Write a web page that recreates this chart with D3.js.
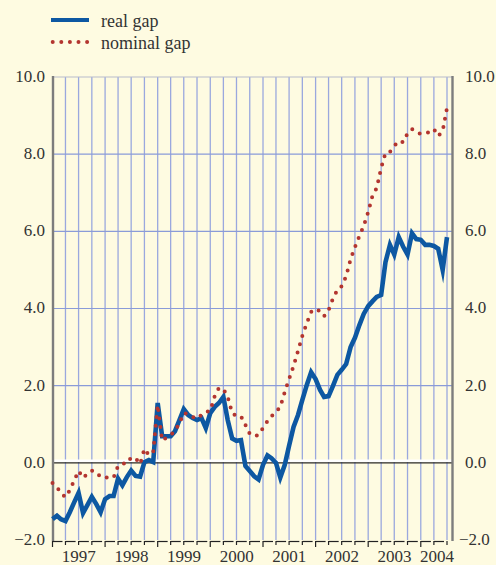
<!DOCTYPE html>
<html>
<head>
<meta charset="utf-8">
<script src="https://cdn.jsdelivr.net/npm/d3@7"></script>
<style>
  body { margin: 0; background: #fefbe1; }
  svg { display: block; }
  svg text { font-family: "Liberation Serif", Tinos, "Times New Roman", "DejaVu Serif", serif; }
</style>
</head>
<body>
<svg id="chart"></svg>
<script>
// monthly, Jan 1997 .. Jul 2004
const startYear = 1997;
const realGap = [
  -1.46, -1.37, -1.46, -1.51, -1.28, -1.02, -0.78, -1.30, -1.09, -0.88, -1.07, -1.28,
  -0.94, -0.86, -0.86, -0.41, -0.58, -0.37, -0.20, -0.34, -0.36, 0.02, 0.07, 0.02,
  1.55, 0.69, 0.69, 0.69, 0.82, 1.11, 1.39, 1.24, 1.16, 1.11, 1.16, 0.90,
  1.29, 1.45, 1.55, 1.71, 1.11, 0.63, 0.57, 0.59, -0.08, -0.21, -0.35, -0.43,
  -0.05, 0.19, 0.12, 0.00, -0.38, -0.05, 0.44, 0.93, 1.24, 1.63, 2.02, 2.35,
  2.17, 1.89, 1.71, 1.73, 1.99, 2.28, 2.41, 2.56, 3.00, 3.24, 3.57, 3.86,
  4.06, 4.19, 4.30, 4.35, 5.20, 5.65, 5.40, 5.85, 5.60, 5.40, 5.95, 5.80,
  5.78, 5.65, 5.65, 5.62, 5.55, 5.00, 5.85
];
const nominalGap = [
  -0.52, -0.63, -0.78, -0.89, -0.71, -0.45, -0.21, -0.39, -0.28, -0.20, -0.24, -0.37,
  -0.39, -0.37, -0.38, -0.08, -0.02, -0.02, 0.14, 0.12, -0.03, 0.36, 0.20, 0.28,
  1.50, 0.58, 0.65, 0.72, 0.82, 1.03, 1.29, 1.26, 1.19, 1.14, 1.24, 1.32,
  1.35, 1.73, 1.94, 1.91, 1.71, 1.29, 1.21, 1.21, 0.98, 0.75, 0.69, 0.72,
  0.90, 1.08, 1.21, 1.32, 1.45, 1.84, 2.17, 2.51, 2.90, 3.29, 3.62, 3.91,
  3.99, 3.93, 3.80, 3.96, 4.25, 4.48, 4.58, 4.84, 5.28, 5.59, 5.88, 6.14,
  6.50, 6.94, 7.12, 7.64, 8.03, 8.06, 8.21, 8.34, 8.31, 8.54, 8.65, 8.57,
  8.52, 8.55, 8.57, 8.65, 8.47, 8.60, 9.20
];
const yTicks = [-2, 0, 2, 4, 6, 8, 10];
const yearLabels = ["1997", "1998", "1999", "2000", "2001", "2002", "2003", "2004"];
const seriesNames = ["real gap", "nominal gap"];

const W = 496, H = 565;
const blue = "#0d58a2", red = "#b3352f", gridBlue = "#9aa8de", txt = "#333";

const svg = d3.select("#chart").attr("width", W).attr("height", H);

const x = d3.scaleTime()
  .domain([new Date(1997, 0, 1), new Date(2004, 6, 1)])
  .range([52.5, 447]);
const y = d3.scaleLinear().domain([-2, 10]).range([540, 77]);
const xLeft = 53, xRight = 452.5;

const dates = realGap.map((d, i) => new Date(startYear, i, 1));

// vertical quarter grid
const quarters = d3.timeMonth.every(3).range(new Date(1997, 3, 1), new Date(2004, 6, 2));
svg.append("g")
  .selectAll("line")
  .data(quarters)
  .join("line")
  .attr("x1", d => x(d)).attr("x2", d => x(d))
  .attr("y1", y(10)).attr("y2", y(-2))
  .attr("stroke", gridBlue)
  .attr("stroke-width", 1.3);

// horizontal grid
svg.append("g")
  .selectAll("line")
  .data(yTicks.filter(d => d > 0))
  .join("line")
  .attr("x1", xLeft).attr("x2", xRight)
  .attr("y1", d => y(d)).attr("y2", d => y(d))
  .attr("stroke", d => d === 10 ? "#b8bccc" : "#8a9bd8")
  .attr("stroke-width", 1.2);

// zero line
svg.append("line")
  .attr("x1", xLeft).attr("x2", xRight)
  .attr("y1", y(0) - 2).attr("y2", y(0) - 2)
  .attr("stroke", "#fff").attr("stroke-width", 2.5);
svg.append("line")
  .attr("x1", xLeft).attr("x2", xRight)
  .attr("y1", y(0)).attr("y2", y(0))
  .attr("stroke", "#2a2a2a").attr("stroke-width", 1.2);

// side axes
[xLeft, xRight].forEach(xx => {
  svg.append("line")
    .attr("x1", xx).attr("x2", xx)
    .attr("y1", y(10) - 1).attr("y2", y(-2) + 1)
    .attr("stroke", "#7d7d7d").attr("stroke-width", 2.4);
});

// bottom tick marks
const allQ = d3.timeMonth.every(3).range(new Date(1997, 0, 1), new Date(2004, 6, 2));
const bottom = svg.append("g").attr("stroke", "#222").attr("stroke-width", 1.2).attr("fill", "none");
allQ.forEach((d, i) => {
  const x0 = x(d);
  const isYear = d.getMonth() === 0;
  bottom.append("line")
    .attr("x1", x0).attr("x2", x0)
    .attr("y1", y(-2) + 1).attr("y2", y(-2) + (isYear ? 7 : 5));
  if (i < allQ.length - 1) {
    bottom.append("line")
      .attr("x1", x0).attr("x2", x(allQ[i + 1]) - 3)
      .attr("y1", y(-2) + 1.5).attr("y2", y(-2) + 1.5);
  }
});

// year labels
svg.append("g")
  .selectAll("text")
  .data(yearLabels)
  .join("text")
  .attr("x", (d, i) => {
    const a = x(new Date(+d, 0, 1));
    const b = Math.min(x(new Date(+d + 1, 0, 1)), x.range()[1]);
    return (a + b) / 2 + (i === yearLabels.length - 1 ? 3 : 0);
  })
  .attr("y", 562)
  .attr("text-anchor", "middle")
  .attr("font-size", 17)
  .attr("fill", txt)
  .text(d => d);

// y labels left and right
const fmt = d3.format(".1f");
svg.append("g")
  .selectAll("text")
  .data(yTicks)
  .join("text")
  .attr("x", 45)
  .attr("y", d => y(d) + 1)
  .attr("dominant-baseline", "middle")
  .attr("text-anchor", "end")
  .attr("font-size", 17)
  .attr("fill", txt)
  .text(d => fmt(d));
svg.append("g")
  .selectAll("text")
  .data(yTicks)
  .join("text")
  .attr("x", d => d < 0 ? 459 : 465)
  .attr("y", d => y(d) + 1)
  .attr("dominant-baseline", "middle")
  .attr("text-anchor", "start")
  .attr("font-size", 17)
  .attr("fill", txt)
  .text(d => fmt(d));

// series
const line = d3.line().x((d, i) => x(dates[i])).y(d => y(d));

svg.append("path")
  .datum(realGap)
  .attr("d", line)
  .attr("fill", "none")
  .attr("stroke", blue)
  .attr("stroke-width", 4.6)
  .attr("stroke-linejoin", "miter")
  .attr("stroke-miterlimit", 6);

svg.append("path")
  .datum(nominalGap)
  .attr("d", line)
  .attr("fill", "none")
  .attr("stroke", red)
  .attr("stroke-width", 4)
  .attr("stroke-linecap", "round")
  .attr("stroke-dasharray", "0 8.6");

// legend
const legend = svg.append("g");
legend.append("line")
  .attr("x1", 51).attr("x2", 89).attr("y1", 20).attr("y2", 20)
  .attr("stroke", blue).attr("stroke-width", 4);
legend.append("line")
  .attr("x1", 52.7).attr("x2", 89).attr("y1", 42).attr("y2", 42)
  .attr("stroke", red).attr("stroke-width", 4)
  .attr("stroke-linecap", "round").attr("stroke-dasharray", "0 8.6");
legend.selectAll("text")
  .data(seriesNames)
  .join("text")
  .attr("x", 101)
  .attr("y", (d, i) => 27 + i * 21.5)
  .attr("font-size", 18)
  .attr("fill", txt)
  .text(d => d);
</script>
</body>
</html>
